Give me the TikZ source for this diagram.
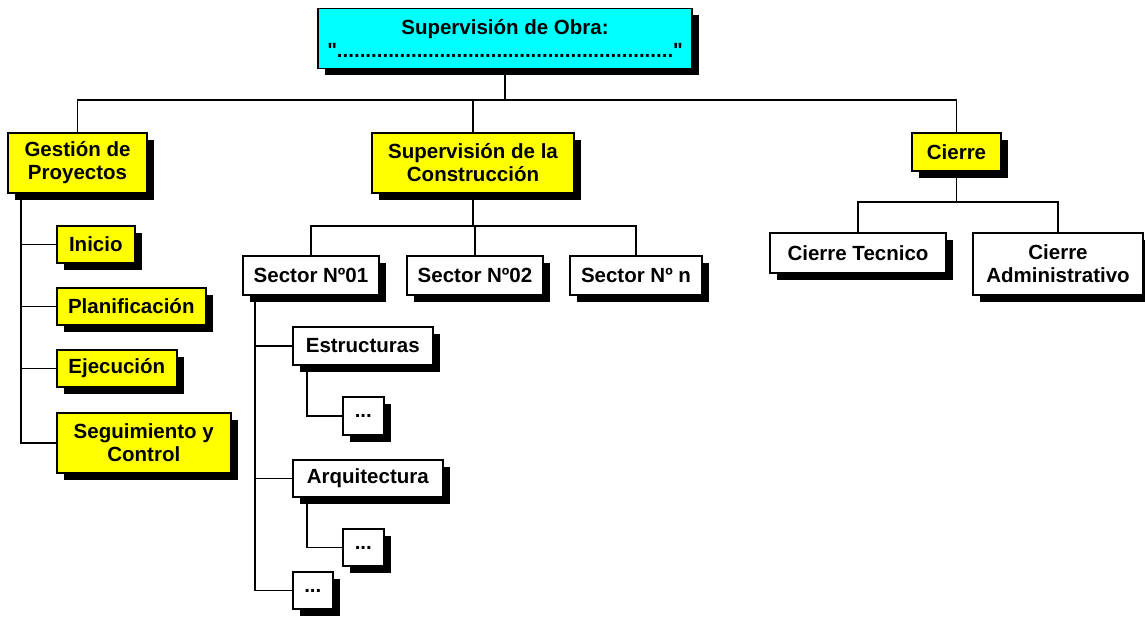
\documentclass[tikz,border=0pt]{standalone}
\usepackage{fontspec}
\setmainfont{Liberation Sans}[Ligatures=TeXOff]
\usetikzlibrary{shadows,backgrounds}
\definecolor{obracyan}{HTML}{00FFFF}
\definecolor{obrayellow}{HTML}{FFFF00}

\begin{document}
\begin{tikzpicture}[x=1pt, y=-1pt,
  box/.style={draw, line width=1.6pt, align=center, inner sep=2pt, fill=white,
    font=\fontsize{20.5}{23}\selectfont\bfseries,
    drop shadow={shadow xshift=7pt, shadow yshift=-7pt, opacity=1, fill=black}},
  task/.style={box, fill=obrayellow},
  conn/.style={line width=1.6pt}
]
  \useasboundingbox (0,0) rectangle (1145,617);

  % root
  \node[box, fill=obracyan, minimum width=374pt, minimum height=60pt] (obra) at (505,38.5)
    {Supervisión de Obra:\\"..........................................................."};

  % level 1
  \node[task, minimum width=139pt, minimum height=60pt] (gest) at (77.5,163) {Gestión de\\Proyectos};
  \node[task, minimum width=202pt, minimum height=60pt] (sup) at (473,163) {Supervisión de la\\Construcción};
  \node[task, minimum width=89pt, minimum height=38pt] (cierre) at (956.5,152) {Cierre};

  % gestion de proyectos
  \node[task, anchor=west, minimum width=78pt, minimum height=37pt] (ini) at (56,244.5) {Inicio};
  \node[task, anchor=west, minimum width=149pt, minimum height=37pt] (plan) at (56,306.5) {Planificación};
  \node[task, anchor=west, minimum width=120pt, minimum height=37pt] (ejec) at (56,368.5) {Ejecución};
  \node[task, anchor=west, minimum width=174pt, minimum height=60pt] (seg) at (56,443) {Seguimiento y\\Control};

  % sectores
  \node[box, minimum width=136pt, minimum height=39pt] (s01) at (311,275.5) {Sector Nº01};
  \node[box, minimum width=136pt, minimum height=39pt] (s02) at (475,275.5) {Sector Nº02};
  \node[box, minimum width=132pt, minimum height=39pt] (sn) at (636,275.5) {Sector Nº n};

  \node[box, anchor=west, minimum width=140pt, minimum height=38pt] (estr) at (292,346) {Estructuras};
  \node[box, anchor=west, minimum width=41pt, minimum height=38pt] (d1) at (342,416) {...};
  \node[box, anchor=west, minimum width=150pt, minimum height=37pt] (arq) at (292,478.5) {Arquitectura};
  \node[box, anchor=west, minimum width=41pt, minimum height=37pt] (d2) at (342,547.5) {...};
  \node[box, anchor=west, minimum width=40pt, minimum height=37pt] (d3) at (292,590.5) {...};

  % cierre
  \node[box, minimum width=176pt, minimum height=40pt] (ct) at (858,253) {Cierre Tecnico};
  \node[box, minimum width=170pt, minimum height=62pt] (ca) at (1058,264) {Cierre\\Administrativo};

  \begin{scope}[on background layer]
    \coordinate (bus) at (505,100);
    \draw[conn] (obra.south) -- (bus);
    \draw[conn] (gest.north) |- (bus) -| (cierre.north);
    \draw[conn] (sup.north) -- (sup.north |- bus);

    \coordinate (gtrunk) at ([xshift=14pt]gest.south west);
    \draw[conn] (gtrunk) |- (seg.west);
    \foreach \t in {ini,plan,ejec}
      \draw[conn] (\t.west) -- (\t.west -| gtrunk);

    \coordinate (sbus) at (473,226);
    \draw[conn] (sup.south) -- (sbus);
    \draw[conn] (s01.north) |- (sbus) -| (sn.north);
    \draw[conn] (s02.north) -- (s02.north |- sbus);

    \coordinate (strunk) at ([xshift=13pt]s01.south west);
    \draw[conn] (strunk) |- (d3.west);
    \foreach \t in {estr,arq}
      \draw[conn] (\t.west) -- (\t.west -| strunk);
    \draw[conn] ([xshift=15pt]estr.south west) |- (d1.west);
    \draw[conn] ([xshift=15pt]arq.south west) |- (d2.west);

    \coordinate (cbus) at (956.5,202);
    \draw[conn] (cierre.south) -- (cbus);
    \draw[conn] (ct.north) |- (cbus) -| (ca.north);
  \end{scope}
\end{tikzpicture}
\end{document}
